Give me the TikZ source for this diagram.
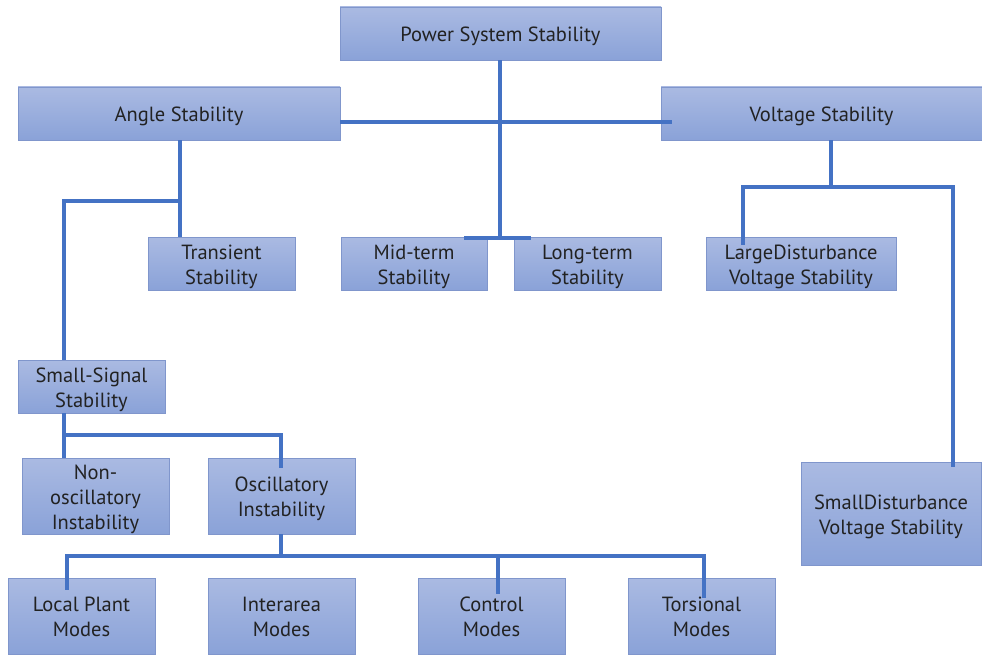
\documentclass[tikz,border=0pt]{standalone}
\usepackage{fontspec}
\setmainfont{PT Sans}
\usetikzlibrary{calc}
\definecolor{linkblue}{RGB}{68,114,196}
\definecolor{boxtop}{RGB}{170,186,226}
\definecolor{boxbot}{RGB}{138,162,216}
\definecolor{boxedge}{RGB}{128,150,204}
\definecolor{txt}{RGB}{34,34,34}
\newcommand\lbl[1]{\raisebox{-3.3pt}[\height][\depth]{\begin{tabular}{@{}c@{}}#1\end{tabular}}}
\begin{document}
\begin{tikzpicture}[x=1pt,y=-1pt,
  box/.style={draw=boxedge,line width=0.8pt,top color=boxtop,bottom color=boxbot,
    inner sep=0pt,text=txt,font=\fontsize{20.5}{25}\selectfont},
  conn/.style={draw=linkblue,line width=4.6pt,line cap=butt,line join=miter}]
\useasboundingbox (0,0) rectangle (982,655);
\fill[white] (0,0) rectangle (982,655);
% boxes
\node[box,minimum width=321pt,minimum height=53pt] (pss) at (500.5,33.5) {\lbl{Power System Stability}};
\node[box,minimum width=322pt,minimum height=53pt] (angle) at (179,113.5) {\lbl{Angle Stability}};
\node[box,minimum width=321pt,minimum height=53pt] (volt) at (821.5,113.5) {\lbl{Voltage Stability}};
\node[box,minimum width=147pt,minimum height=53pt] (trans) at (221.5,263.5) {\lbl{Transient\\Stability}};
\node[box,minimum width=146pt,minimum height=53pt] (mid) at (414,263.5) {\lbl{Mid-term\\Stability}};
\node[box,minimum width=147pt,minimum height=53pt] (long) at (587.5,263.5) {\lbl{Long-term\\Stability}};
\node[box,minimum width=190pt,minimum height=53pt] (large) at (801,263.5) {\lbl{LargeDisturbance\\Voltage Stability}};
\node[box,minimum width=147pt,minimum height=53pt] (ss) at (91.5,386.5) {\lbl{Small-Signal\\Stability}};
\node[box,minimum width=147pt,minimum height=76pt] (nonosc) at (95.5,496) {\lbl{Non-\\oscillatory\\Instability}};
\node[box,minimum width=147pt,minimum height=76pt] (osc) at (281.5,496) {\lbl{Oscillatory\\Instability}};
\node[box,minimum width=180pt,minimum height=103pt] (smalld) at (891,513.5) {\lbl{SmallDisturbance\\Voltage Stability}};
\node[box,minimum width=147pt,minimum height=76pt] (local) at (81.5,616) {\lbl{Local Plant\\Modes}};
\node[box,minimum width=147pt,minimum height=76pt] (inter) at (281.5,616) {\lbl{Interarea\\Modes}};
\node[box,minimum width=147pt,minimum height=76pt] (control) at (491.5,616) {\lbl{Control\\Modes}};
\node[box,minimum width=147pt,minimum height=76pt] (tors) at (701.5,616) {\lbl{Torsional\\Modes}};
% bend points
\coordinate (p1) at (500,238);
\coordinate (h1) at (0,122);
\coordinate (a0) at (180,201);
\coordinate (a1) at (64,201);
\coordinate (s1) at (281,435);
\coordinate (o1) at (67,556);
\coordinate (o2) at (704,556);
\coordinate (o3) at (498,556);
\coordinate (v0) at (831,187);
\coordinate (v1) at (743,187);
\coordinate (v2) at (953,187);
% connectors
\draw[conn] (pss.south -| p1) -- (p1);
\draw[conn] ($(p1)+(-36,0)$) -- ($(p1)+(31,0)$);
\draw[conn] (angle.east |- h1) -- ($(volt.west |- h1)+(11,0)$);
\draw[conn] (angle.south -| a0) -- (a0 |- trans.north);
\draw[conn] (a0) -- (a1) -- (a1 |- ss.north);
\draw[conn] (ss.south -| a1) -- (a1 |- nonosc.north);
\draw[conn] (a1 |- s1) -- (s1) -- ($(s1 |- osc.north)+(0,10)$);
\draw[conn] (osc.south -| s1) -- (s1 |- o1);
\draw[conn] ($(o1 |- local.north)+(0,12)$) -- (o1) -- (o2) -- ($(o2 |- tors.north)+(0,20)$);
\draw[conn] (o3) -- ($(o3 |- control.north)+(0,16)$);
\draw[conn] (volt.south -| v0) -- (v0);
\draw[conn] ($(v1 |- large.north)+(0,8)$) -- (v1) -- (v2) -- ($(v2 |- smalld.north)+(0,5)$);
\end{tikzpicture}
\end{document}
